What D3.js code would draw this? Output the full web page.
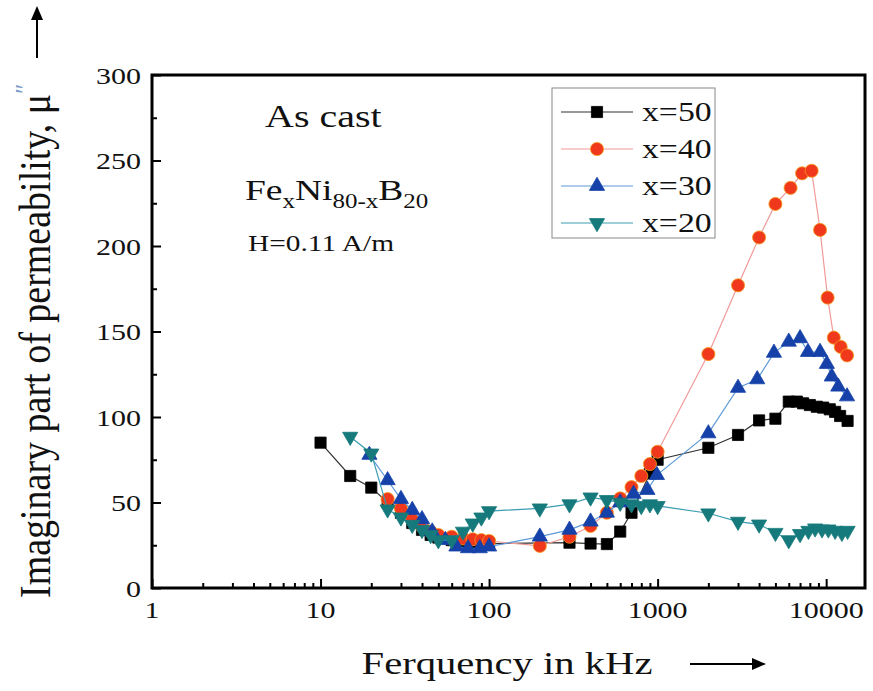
<!DOCTYPE html>
<html>
<head>
<meta charset="utf-8">
<script src="https://cdn.jsdelivr.net/npm/d3@7"></script>
<style>
  body { margin: 0; background: #fff; }
  text { font-family: "Liberation Serif", "Times New Roman", serif; fill: #111; }
</style>
</head>
<body>
<div id="chart"></div>
<script>
// frequencies (kHz) and imaginary permeability for each alloy
var freq50 = [10, 15, 20, 25, 30, 35, 40, 45, 50, 60, 70, 80, 90, 100, 300, 400, 500, 600, 700, 900, 1000,
  2000, 3000, 4000, 5000, 6000, 6700, 7300, 8000, 8800, 9600, 10500, 11300, 12100, 13400];
var mu50 = [85, 65.5, 58.7, 50, 44, 38, 34, 31, 29.5, 28, 27, 26.5, 26, 26, 26.5, 26, 25.7, 33, 44, 67, 75,
  82, 89.5, 98, 99, 109, 109, 108, 107, 106, 105.5, 104.5, 103, 100.6, 97.7];

var freq40 = [25, 30, 35, 40, 45, 50, 60, 70, 80, 90, 100, 200, 300, 400, 500, 600, 700, 800, 900, 1000,
  2000, 3000, 4000, 5000, 6150, 7200, 8200, 9200, 10200, 11100, 12200, 13300];
var mu40 = [52, 46.6, 40, 36, 33, 31, 30, 29, 28.5, 28, 27.5, 24.6, 30, 36.3, 44, 52.4, 59, 65.5, 72.5, 79.7,
  136.8, 177, 205, 224.6, 234, 242.5, 244, 209.4, 169.8, 146.4, 141, 136];

var freq30 = [19.5, 25, 30, 35, 40, 46, 55, 64, 75, 88, 100, 200, 300, 400, 500, 600, 720, 870, 990,
  2000, 3000, 3900, 4900, 6000, 7000, 7800, 9200, 10100, 10800, 11800, 13300];
var mu30 = [77.8, 63, 52, 45.6, 40.2, 33, 28, 24.2, 23.2, 23.2, 24.2, 30, 34, 38.8, 44, 50, 55, 57.3, 66,
  90.4, 117, 122, 137.5, 144, 146, 138, 138, 131, 123.6, 117.7, 112];

var freq20 = [15, 20, 25, 30, 35, 40, 45, 50, 60, 70, 80, 90, 100, 200, 300, 400, 500, 600, 700, 800, 900, 1000,
  2000, 3000, 4000, 5000, 6000, 7000, 7850, 8600, 9450, 10300, 11300, 12400, 13400];
var mu20 = [88.5, 78.7, 46, 41.3, 37, 34, 31, 28, 28, 33, 37.8, 41.3, 45, 46.6, 49, 53, 51.5, 49.9, 49, 48, 49, 48,
  43.7, 38.8, 37.2, 32.3, 28, 31.6, 33.5, 34.9, 34.3, 34.3, 33.5, 32.3, 33.5];

var seriesNames = ["x=50", "x=40", "x=30", "x=20"];
var xTicks = [1, 10, 100, 1000, 10000];
var yTicks = [0, 50, 100, 150, 200, 250, 300];

var W = 873, H = 691;
var plotL = 152, plotR = 865, plotT = 75, plotB = 588;
var sx = 1.25;   // the original figure is stretched sideways

var svg = d3.select("#chart").append("svg")
  .attr("width", W)
  .attr("height", H);

var x = d3.scaleLog().domain([1, 17000]).range([plotL, plotR]);
var y = d3.scaleLinear().domain([0, 300]).range([plotB, plotT]);

function label(g, px, py, txt, size, anchor) {
  return g.append("text")
    .attr("transform", "translate(" + px + "," + py + ") scale(" + sx + ",1)")
    .style("font-size", size + "px")
    .style("text-anchor", anchor || "start")
    .text(txt);
}

// minor ticks
var minorX = [];
for (var d = 1; d < 10000; d *= 10) {
  for (var k = 2; k <= 9; k++) minorX.push(d * k);
}
var minorY = d3.range(25, 300, 50);

var axisX = svg.append("g")
  .attr("transform", "translate(0," + plotB + ")")
  .call(d3.axisBottom(x).tickValues(xTicks).tickSize(-9).tickFormat(""));
var axisXm = svg.append("g")
  .attr("transform", "translate(0," + plotB + ")")
  .call(d3.axisBottom(x).tickValues(minorX).tickSize(-5).tickFormat(""));
var axisY = svg.append("g")
  .attr("transform", "translate(" + plotL + ",0)")
  .call(d3.axisLeft(y).tickValues(yTicks).tickSize(-9).tickFormat(""));
var axisYm = svg.append("g")
  .attr("transform", "translate(" + plotL + ",0)")
  .call(d3.axisLeft(y).tickValues(minorY).tickSize(-5).tickFormat(""));
[axisX, axisXm, axisY, axisYm].forEach(function(a) {
  a.select(".domain").remove();
  a.selectAll("line").attr("stroke", "#000").attr("stroke-width", 2);
});

svg.append("rect")
  .attr("x", plotL)
  .attr("y", plotT)
  .attr("width", plotR - plotL)
  .attr("height", plotB - plotT)
  .attr("fill", "none")
  .attr("stroke", "#000")
  .attr("stroke-width", 3);

// tick labels
xTicks.forEach(function(t) {
  label(svg, x(t), 618, t, 24, "middle");
});
yTicks.forEach(function(t) {
  label(svg, 141, y(t) + 8.5, t, 24, "end");
});

// axis titles
label(svg, 507, 674, "Ferquency in kHz", 32.5, "middle");
svg.append("line")
  .attr("x1", 690).attr("y1", 664).attr("x2", 755).attr("y2", 664)
  .attr("stroke", "#000").attr("stroke-width", 2);
svg.append("path")
  .attr("d", "M766,664 L752,658 L752,670 Z")
  .attr("fill", "#000");

var yTitle = svg.append("text")
  .attr("transform", "translate(50,598) rotate(-90) scale(1,1.15)")
  .style("font-size", "38px")
  .style("text-anchor", "start");
yTitle.append("tspan").text("Imaginary part of permeability, \u03bc");
yTitle.append("tspan").attr("dy", -14).style("fill", "#7a9cc8").style("font-size", "24px").text("\u2033");
svg.append("line")
  .attr("x1", 37).attr("y1", 58).attr("x2", 37).attr("y2", 18)
  .attr("stroke", "#000").attr("stroke-width", 2);
svg.append("path")
  .attr("d", "M37,6 L31,20 L43,20 Z")
  .attr("fill", "#000");

// annotations
label(svg, 265, 127, "As cast", 32, "start");
var alloy = svg.append("text")
  .attr("transform", "translate(245,200) scale(" + sx + ",1)")
  .style("font-size", "30px");
alloy.append("tspan").text("Fe");
alloy.append("tspan").attr("dy", 8).style("font-size", "20px").text("x");
alloy.append("tspan").attr("dy", -8).text("Ni");
alloy.append("tspan").attr("dy", 8).style("font-size", "20px").text("80-x");
alloy.append("tspan").attr("dy", -8).text("B");
alloy.append("tspan").attr("dy", 8).style("font-size", "20px").text("20");
label(svg, 248, 251, "H=0.11 A/m", 23.5, "start");

// series
var series = [
  { name: seriesNames[0], f: freq50, v: mu50, line: "#333", fill: "#000", stroke: "#000", shape: d3.symbolSquare, size: 125, rot: 0 },
  { name: seriesNames[1], f: freq40, v: mu40, line: "#f19a9a", fill: "#f0381c", stroke: "#f59a1a", shape: d3.symbolCircle, size: 135, rot: 0 },
  { name: seriesNames[2], f: freq30, v: mu30, line: "#5d9ad8", fill: "#1541a8", stroke: "#1541a8", shape: d3.symbolTriangle, size: 100, rot: 0 },
  { name: seriesNames[3], f: freq20, v: mu20, line: "#3a9db0", fill: "#167a7c", stroke: "#167a7c", shape: d3.symbolTriangle, size: 100, rot: 180 }
];

var lineGen = d3.line()
  .x(function(d) { return x(d[0]); })
  .y(function(d) { return y(d[1]); });

series.forEach(function(s) {
  var pts = s.f.map(function(f, i) { return [f, s.v[i]]; });
  var g = svg.append("g");
  g.append("path")
    .datum(pts)
    .attr("d", lineGen)
    .attr("fill", "none")
    .attr("stroke", s.line)
    .attr("stroke-width", 1.2);
  g.selectAll("path.pt")
    .data(pts)
    .enter().append("path")
    .attr("class", "pt")
    .attr("d", d3.symbol().type(s.shape).size(s.size))
    .attr("transform", function(d) {
      return "translate(" + x(d[0]) + "," + y(d[1]) + ") rotate(" + s.rot + ")";
    })
    .attr("fill", s.fill)
    .attr("stroke", s.stroke)
    .attr("stroke-width", 0.8);
});

// legend
var leg = svg.append("g");
leg.append("rect")
  .attr("x", 552).attr("y", 88).attr("width", 163).attr("height", 150)
  .attr("fill", "#fff").attr("stroke", "#888").attr("stroke-width", 1);
series.forEach(function(s, i) {
  var ly = 112 + i * 37;
  leg.append("line")
    .attr("x1", 561).attr("x2", 633).attr("y1", ly).attr("y2", ly)
    .attr("stroke", s.line).attr("stroke-width", 1.2);
  leg.append("path")
    .attr("d", d3.symbol().type(s.shape).size(s.size))
    .attr("transform", "translate(597," + ly + ") rotate(" + s.rot + ")")
    .attr("fill", s.fill).attr("stroke", s.stroke).attr("stroke-width", 0.8);
  label(leg, 642, ly + 9, s.name, 27, "start");
});
</script>
</body>
</html>
